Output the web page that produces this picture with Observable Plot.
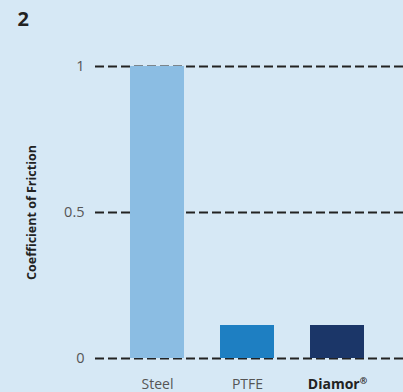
<!DOCTYPE html>
<html>
<head>
<meta charset="utf-8">
<script src="https://cdn.jsdelivr.net/npm/d3@7"></script>
<script src="https://cdn.jsdelivr.net/npm/@observablehq/plot@0.6"></script>
<style>
  html, body { margin: 0; padding: 0; background: #d6e8f5; }
  #chart svg { display: block; }
</style>
</head>
<body>
<div id="chart"></div>
<script>
const materials = ["Steel", "PTFE", "Diamor®"];
const friction = [1.0, 0.113, 0.113];
const barColors = ["#8bbde3", "#1e7fc2", "#1b3668"];
const yTicks = [0, 0.5, 1];
const yLabel = "Coefficient of Friction";
const panelTitle = "2";

const data = materials.map((m, i) => ({material: m, value: friction[i], color: barColors[i]}));
const font = "'Open Sans', 'Noto Sans', sans-serif";

const chart = Plot.plot({
  width: 403,
  height: 392,
  marginLeft: 95,
  marginRight: 0,
  marginTop: 66,
  marginBottom: 34,
  style: {background: "#d6e8f5", fontFamily: font, fontSize: "14px"},
  x: {domain: materials, range: [112, 382], paddingInner: 0.4, paddingOuter: 0.2, axis: null},
  y: {domain: [0, 1], ticks: yTicks, axis: null},
  color: {type: "identity"},
  marks: [
    Plot.ruleY(yTicks, {stroke: "#222", strokeWidth: 2, strokeDasharray: "9,4"}),
    Plot.barY(data, {x: "material", y: "value", fill: "color"}),
    Plot.axisY({ticks: yTicks, tickSize: 0, tickPadding: 11, tickFormat: d => String(d), fill: "#555", fontSize: 14.5, label: null}),
    Plot.text(data.filter(d => d.material !== "Diamor®"), {x: "material", text: "material", frameAnchor: "bottom", dy: 30, fill: "#555", fontSize: 14}),
    Plot.text(data.filter(d => d.material === "Diamor®"), {x: "material", text: "material", frameAnchor: "bottom", dy: 30, fill: "#222", fontSize: 14, fontWeight: "bold", className: "brand"}),
    Plot.text([yLabel], {frameAnchor: "left", dx: -64, rotate: -90, textAnchor: "middle", fontWeight: "bold", fill: "#222", fontSize: 12.5}),
    Plot.text([panelTitle], {frameAnchor: "top-left", dx: -78, dy: -55, fontWeight: "bold", fill: "#222", fontSize: 20})
  ]
});
// render the registered mark as a small superscript, as in the reference
d3.select(chart).selectAll(".brand text").each(function() {
  const t = d3.select(this);
  const s = t.text();
  if (s.includes("®")) {
    t.text(s.replace("®", ""));
    t.append("tspan").attr("font-size", "9px").attr("dy", "-0.45em").text("®");
  }
});
document.getElementById("chart").append(chart);
</script>
</body>
</html>
